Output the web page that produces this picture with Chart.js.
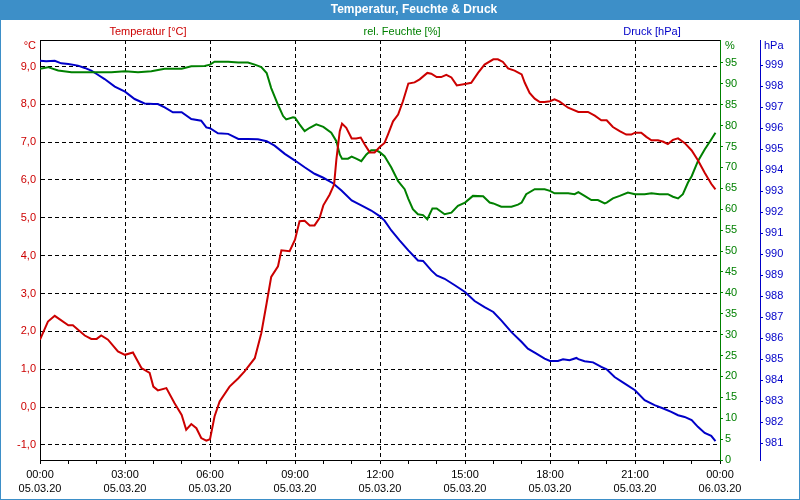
<!DOCTYPE html>
<html lang="de">
<head>
<meta charset="utf-8">
<title>Temperatur, Feuchte & Druck</title>
<script src="https://cdn.jsdelivr.net/npm/chart.js@4"></script>
<style>
  html, body { margin: 0; padding: 0; background: #fff; }
  #wrap { width: 800px; height: 500px; }
</style>
</head>
<body>
<div id="wrap"><canvas id="wetterChart" width="800" height="500"></canvas></div>
<script>
// --- Daten (Stunden ab 05.03.20 00:00) ---
const tempStunden = [0.00, 0.28, 0.52, 1.00, 1.16, 1.58, 1.81, 2.00, 2.16, 2.40, 2.75, 3.00, 3.28, 3.58, 3.87, 4.00, 4.16, 4.46, 4.75, 5.00, 5.16, 5.34, 5.52, 5.69, 5.87, 6.00,
  6.16, 6.34, 6.69, 7.00, 7.22, 7.58, 7.81, 8.00, 8.16, 8.40, 8.52, 8.81, 9.00, 9.16, 9.34, 9.52, 9.69, 9.87, 10.00, 10.22, 10.38, 10.46, 10.58, 10.66, 10.81, 11.00, 11.16, 11.32, 11.46, 11.64, 11.81,
  12.00, 12.16, 12.28, 12.46, 12.64, 12.81, 13.00, 13.22, 13.40, 13.67, 13.81, 14.00, 14.16, 14.34, 14.52, 14.71, 15.00, 15.22, 15.46, 15.69, 16.00, 16.16, 16.34, 16.52, 16.75, 17.00, 17.11, 17.28, 17.46, 17.64, 17.81,
  18.00, 18.16, 18.34, 18.64, 19.00, 19.34, 19.58, 19.81, 20.00, 20.22, 20.46, 20.69, 20.87, 21.00, 21.22, 21.40, 21.58, 21.81, 22.00, 22.16, 22.34, 22.52, 22.75, 23.00, 23.22, 23.46, 23.69, 23.84];
const tempWerte = [1.78, 2.26, 2.41, 2.16, 2.16, 1.89, 1.80, 1.80, 1.89, 1.78, 1.47, 1.38, 1.44, 1.03, 0.90, 0.54, 0.44, 0.50, 0.10, -0.21, -0.60, -0.45, -0.56, -0.82, -0.89, -0.85,
  -0.25, 0.15, 0.54, 0.76, 0.94, 1.29, 1.95, 2.75, 3.44, 3.72, 4.14, 4.12, 4.42, 4.91, 4.92, 4.80, 4.80, 5.00, 5.33, 5.61, 5.88, 6.54, 7.29, 7.49, 7.38, 7.10, 7.10, 7.12, 6.94, 6.73, 6.73,
  6.88, 6.98, 7.20, 7.55, 7.73, 8.08, 8.55, 8.58, 8.66, 8.83, 8.81, 8.72, 8.72, 8.78, 8.71, 8.50, 8.54, 8.57, 8.83, 9.05, 9.19, 9.19, 9.12, 8.95, 8.89, 8.79, 8.57, 8.30, 8.15, 8.06, 8.06,
  8.08, 8.13, 8.07, 7.91, 7.80, 7.80, 7.70, 7.58, 7.58, 7.40, 7.29, 7.20, 7.20, 7.25, 7.25, 7.14, 7.05, 7.05, 7.01, 6.95, 7.06, 7.10, 6.98, 6.78, 6.52, 6.19, 5.90, 5.75];

const feuchteStunden = [0.00, 0.28, 0.64, 1.11, 1.58, 2.05, 2.52, 3.00, 3.46, 3.93, 4.40, 5.00, 5.34, 5.81, 6.00, 6.16, 6.64, 7.00, 7.34, 7.58, 7.81, 8.00, 8.16, 8.40, 8.58, 8.69, 8.93, 9.00, 9.16, 9.34, 9.52, 9.75,
  10.00, 10.28, 10.46, 10.58, 10.66, 10.87, 11.00, 11.16, 11.34, 11.52, 11.69, 11.87, 12.00, 12.16, 12.40, 12.64, 12.87, 13.00, 13.16, 13.34, 13.52, 13.67, 13.85, 14.00, 14.28, 14.52, 14.75,
  15.00, 15.28, 15.64, 15.87, 16.00, 16.28, 16.64, 16.87, 17.00, 17.16, 17.46, 17.81, 18.00, 18.16, 18.64, 18.87, 19.00, 19.22, 19.46, 19.69, 19.93, 20.00, 20.22, 20.46, 20.75,
  21.00, 21.34, 21.58, 21.87, 22.00, 22.16, 22.34, 22.52, 22.69, 22.87, 23.00, 23.22, 23.46, 23.69, 23.84];
const feuchteWerte = [93.6, 94.0, 93.2, 92.8, 92.8, 92.8, 92.8, 93.0, 92.8, 93.0, 93.6, 93.6, 94.2, 94.3, 94.6, 95.3, 95.3, 95.1, 95.1, 94.6, 94.0, 92.6, 89.0, 85.0, 82.3, 81.5, 82.0, 81.9, 80.3, 78.7, 79.5, 80.3,
  79.7, 78.3, 76.3, 73.1, 72.1, 72.1, 72.6, 72.1, 71.5, 73.1, 74.1, 74.1, 73.6, 72.7, 70.0, 66.7, 64.8, 62.5, 60.0, 58.8, 58.6, 57.6, 60.2, 60.2, 58.8, 59.2, 60.8,
  61.6, 63.2, 63.1, 61.6, 61.4, 60.6, 60.6, 61.1, 61.6, 63.6, 64.8, 64.8, 64.4, 63.8, 63.8, 63.6, 64.1, 63.2, 62.2, 62.2, 61.4, 61.6, 62.6, 63.2, 64.0,
  63.6, 63.6, 63.8, 63.6, 63.6, 63.6, 63.0, 62.6, 63.6, 66.4, 67.9, 71.5, 74.3, 76.7, 78.3];

const druckStunden = [0.00, 0.22, 0.52, 0.75, 1.00, 1.34, 1.58, 1.81, 2.00, 2.28, 2.64, 3.00, 3.34, 3.69, 4.00, 4.16, 4.40, 4.69, 5.00, 5.34, 5.69, 5.87, 6.00,
  6.28, 6.64, 7.00, 7.34, 7.69, 8.00, 8.28, 8.64, 9.00, 9.34, 9.69, 10.00, 10.34, 10.64, 11.00, 11.34, 11.69, 12.00,
  12.16, 12.40, 12.69, 13.00, 13.34, 13.52, 13.81, 14.00, 14.28, 14.64, 15.00, 15.34, 15.69, 16.00, 16.28, 16.64, 17.00, 17.22, 17.52, 17.81, 18.00,
  18.28, 18.46, 18.69, 18.93, 19.00, 19.22, 19.52, 19.81, 20.00, 20.28, 20.64, 21.00, 21.34, 21.69, 22.00, 22.28, 22.52, 22.75, 23.00, 23.22, 23.46, 23.69, 23.84];
const druckWerte = [999.21, 999.19, 999.21, 999.09, 999.06, 998.98, 998.87, 998.74, 998.58, 998.34, 997.98, 997.74, 997.39, 997.18, 997.15, 997.15, 996.99, 996.76, 996.76, 996.44, 996.36, 996.04, 996.00,
  995.76, 995.73, 995.49, 995.49, 995.47, 995.38, 995.17, 994.78, 994.46, 994.14, 993.83, 993.64, 993.38, 993.03, 992.56, 992.32, 992.08, 991.80,
  991.60, 991.13, 990.66, 990.18, 989.70, 989.68, 989.23, 988.99, 988.83, 988.52, 988.20, 987.77, 987.48, 987.25, 986.85, 986.29, 985.82, 985.50, 985.27, 985.03, 984.92,
  984.92, 985.00, 984.95, 985.06, 985.00, 984.90, 984.85, 984.63, 984.52, 984.15, 983.84, 983.52, 983.05, 982.81, 982.65, 982.49, 982.33, 982.25, 982.10, 981.78, 981.49, 981.35, 981.10];

// --- Achsenbeschriftungen ---
const tempTicks = [-1, 0, 1, 2, 3, 4, 5, 6, 7, 8, 9];
const feuchteTicks = [0, 5, 10, 15, 20, 25, 30, 35, 40, 45, 50, 55, 60, 65, 70, 75, 80, 85, 90, 95];
const druckTicks = [981, 982, 983, 984, 985, 986, 987, 988, 989, 990, 991, 992, 993, 994, 995, 996, 997, 998, 999];
const uhrzeitLabels = ['00:00', '03:00', '06:00', '09:00', '12:00', '15:00', '18:00', '21:00', '00:00'];
const datumLabels = ['05.03.20', '05.03.20', '05.03.20', '05.03.20', '05.03.20', '05.03.20', '05.03.20', '05.03.20', '06.03.20'];

// Farben
const ROT = '#cc0000';
const GRUEN = '#008000';
const BLAU = '#0000c8';
const KOPF = '#3d8fc8';

Chart.defaults.font.family = '"Liberation Sans", Arial, sans-serif';
Chart.defaults.font.size = 11;

const punkte = (xs, ys) => xs.map((x, i) => ({ x: x, y: ys[i] }));
const setzeTicks = werte => scale => { scale.ticks = werte.map(v => ({ value: v })); };

// Titelleiste, Rahmen und Legendentexte
const dekoPlugin = {
    id: 'deko',
    beforeDraw(chart) {
        const ctx = chart.ctx;
        ctx.save();
        ctx.fillStyle = '#fff';
        ctx.fillRect(0, 0, 800, 500);
        ctx.fillStyle = KOPF;
        ctx.fillRect(0, 0, 800, 20);
        ctx.fillStyle = '#fff';
        ctx.font = 'bold 12px "Liberation Sans", Arial, sans-serif';
        ctx.textAlign = 'center';
        ctx.textBaseline = 'middle';
        ctx.fillText('Temperatur, Feuchte & Druck', 414, 10);
        ctx.restore();
    },
    afterDraw(chart) {
        const ctx = chart.ctx;
        const a = chart.chartArea;
        ctx.save();
        // obere Rahmenlinie des Diagramms
        ctx.strokeStyle = '#000';
        ctx.lineWidth = 1;
        ctx.beginPath();
        ctx.moveTo(a.left, a.top + 0.5);
        ctx.lineTo(a.right, a.top + 0.5);
        ctx.stroke();
        // Fensterrahmen
        ctx.strokeStyle = KOPF;
        ctx.strokeRect(0.5, 0.5, 799, 499);

        ctx.font = '11px "Liberation Sans", Arial, sans-serif';
        ctx.textBaseline = 'middle';
        ctx.textAlign = 'center';
        ctx.fillStyle = ROT;
        ctx.fillText('Temperatur [°C]', 148, 32);
        ctx.fillStyle = GRUEN;
        ctx.fillText('rel. Feuchte [%]', 402, 32);
        ctx.fillStyle = BLAU;
        ctx.fillText('Druck [hPa]', 652, 32);

        ctx.textAlign = 'right';
        ctx.fillStyle = ROT;
        ctx.fillText('°C', 36, 46);
        ctx.textAlign = 'left';
        ctx.fillStyle = GRUEN;
        ctx.fillText('%', 725, 46);
        ctx.fillStyle = BLAU;
        ctx.fillText('hPa', 764, 46);
        ctx.restore();
    }
};

new Chart(document.getElementById('wetterChart'), {
    type: 'line',
    data: {
        datasets: [
            { label: 'Temperatur [°C]', data: punkte(tempStunden, tempWerte), yAxisID: 'yT', borderColor: ROT, borderWidth: 2, pointRadius: 0, tension: 0 },
            { label: 'rel. Feuchte [%]', data: punkte(feuchteStunden, feuchteWerte), yAxisID: 'yH', borderColor: GRUEN, borderWidth: 2, pointRadius: 0, tension: 0 },
            { label: 'Druck [hPa]', data: punkte(druckStunden, druckWerte), yAxisID: 'yP', borderColor: BLAU, borderWidth: 2, pointRadius: 0, tension: 0 }
        ]
    },
    options: {
        responsive: false,
        animation: false,
        devicePixelRatio: 1,
        layout: { padding: { top: 40, left: 0, right: 0, bottom: 0 } },
        plugins: { legend: { display: false }, tooltip: { enabled: false }, title: { display: false } },
        scales: {
            x: {
                type: 'linear', position: 'bottom', min: 0, max: 24,
                afterBuildTicks: setzeTicks([...Array(25).keys()]),
                afterFit: s => { s.height = 40; },
                border: { display: true, color: '#000', width: 1, dash: [4, 3] },
                grid: {
                    color: c => (c.tick && c.tick.value % 3 === 0 && c.tick.value > 0 && c.tick.value < 24) ? '#000' : 'rgba(0,0,0,0)',
                    tickColor: '#000', tickLength: 4, tickBorderDash: []
                },
                ticks: {
                    autoSkip: false, maxRotation: 0, padding: 3, color: '#000',
                    font: { size: 11, lineHeight: 1.36 },
                    callback: v => v % 3 === 0 ? [uhrzeitLabels[v / 3], datumLabels[v / 3]] : ''
                }
            },
            yT: {
                type: 'linear', position: 'left', min: -1.4, max: 9.7,
                afterBuildTicks: setzeTicks(tempTicks),
                afterFit: s => { s.width = 40; },
                border: { display: true, color: '#000', width: 1, dash: [4, 3] },
                grid: { color: '#000', drawTicks: false },
                ticks: { padding: 4, color: ROT, callback: v => v.toFixed(1).replace('.', ',') }
            },
            yH: {
                type: 'linear', position: 'right', min: 0, max: 100.5,
                afterBuildTicks: setzeTicks(feuchteTicks),
                afterFit: s => { s.width = 40; },
                border: { display: true, color: GRUEN, width: 1 },
                grid: { drawOnChartArea: false, tickColor: GRUEN, tickLength: 3 },
                ticks: { padding: 2, color: GRUEN }
            },
            yP: {
                type: 'linear', position: 'right', min: 980.2, max: 1000.2,
                afterBuildTicks: setzeTicks(druckTicks),
                afterFit: s => { s.width = 40; },
                border: { display: true, color: BLAU, width: 1 },
                grid: { drawOnChartArea: false, tickColor: BLAU, tickLength: 3 },
                ticks: { padding: 2, color: BLAU }
            }
        }
    },
    plugins: [dekoPlugin]
});
</script>
</body>
</html>
